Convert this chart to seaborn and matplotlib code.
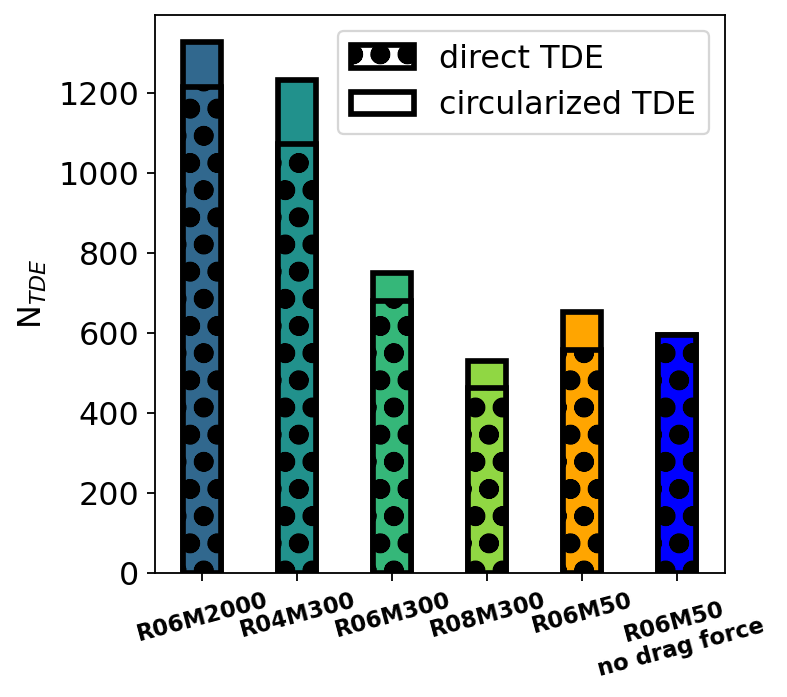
import matplotlib
matplotlib.use("Agg")
import matplotlib.pyplot as plt
from matplotlib.patches import Patch
import seaborn as sns
import pandas as pd

categories = ["R06M2000", "R04M300", "R06M300", "R08M300", "R06M50", "R06M50\nno drag force"]
direct_tde = [1215, 1072, 680, 462, 557, 595]
circularized_tde = [113, 159, 70, 67, 95, 0]
legend_labels = ["direct TDE", "circularized TDE"]

vir = sns.color_palette("viridis", 5)
bar_colors = [vir[1], vir[2], vir[3], vir[4], "orange", "blue"]

DPI = 163
plt.rcParams["hatch.linewidth"] = 4.0
plt.rcParams["font.family"] = ["DejaVu Sans"]

df = pd.DataFrame({
    "run": categories,
    "direct": direct_tde,
    "total": [d + c for d, c in zip(direct_tde, circularized_tde)],
})

fig = plt.figure(figsize=(788 / DPI, 697 / DPI), dpi=DPI)
ax = fig.add_axes([155 / 788, 1 - 573 / 697, (725 - 155) / 788, (573 - 15) / 697])

lw = 2.5
sns.barplot(data=df, x="run", y="total", hue="run", palette=bar_colors, legend=False,
            width=0.4, edgecolor="black", linewidth=lw, ax=ax, saturation=1)
sns.barplot(data=df, x="run", y="direct", hue="run", palette=bar_colors, legend=False,
            width=0.4, edgecolor="black", linewidth=lw, hatch="o", ax=ax, saturation=1)

ax.set_xlabel("")
ax.set_ylabel(r"N$_{TDE}$", fontsize=14)
ax.tick_params(axis="y", labelsize=14)
for lab in ax.get_xticklabels():
    lab.set_rotation(15)
    lab.set_fontweight("bold")
    lab.set_fontsize(10)
    lab.set_ha("center")

handles = [
    Patch(facecolor="white", edgecolor="black", hatch="o", linewidth=lw),
    Patch(facecolor="white", edgecolor="black", linewidth=lw),
]
ax.legend(handles, legend_labels, loc="upper right", fontsize=14)

fig.savefig("out.png", dpi=DPI)
